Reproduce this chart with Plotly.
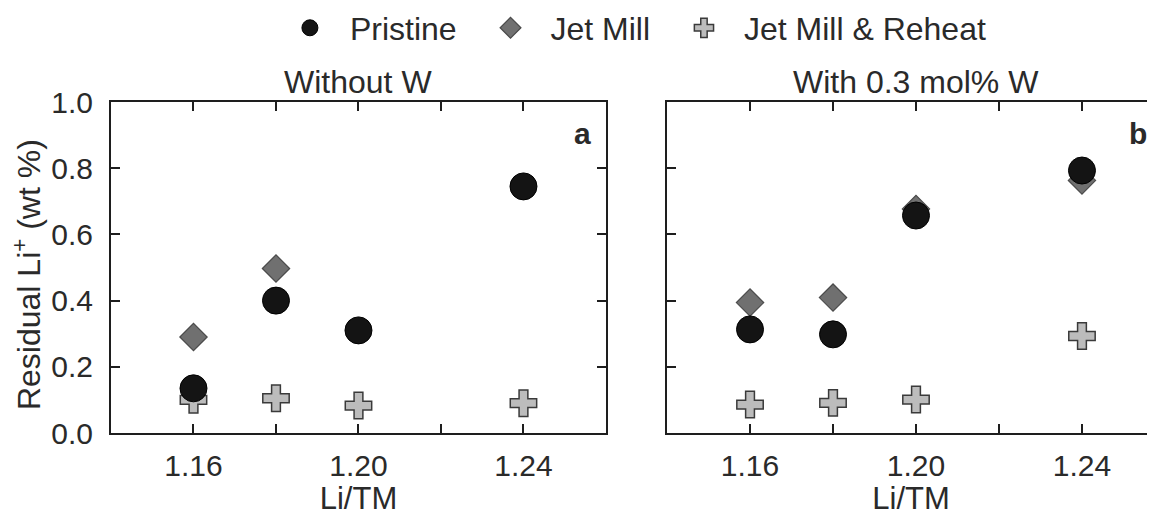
import plotly.graph_objects as go

li_tm = [1.16, 1.18, 1.20, 1.24]

# Panel a: without W
a_pristine = [0.135, 0.40, 0.31, 0.745]
a_jetmill_x = [1.16, 1.18]
a_jetmill = [0.29, 0.497]
a_reheat = [0.10, 0.105, 0.083, 0.09]

# Panel b: with 0.3 mol% W
b_pristine = [0.313, 0.298, 0.657, 0.793]
b_jetmill = [0.394, 0.409, 0.677, 0.763]
b_reheat = [0.086, 0.091, 0.101, 0.293]

x_tickvals = [1.16, 1.18, 1.20, 1.22, 1.24]
x_ticktext = ["1.16", "", "1.20", "", "1.24"]
y_tickvals = [0.0, 0.2, 0.4, 0.6, 0.8, 1.0]

FONT = "Liberation Sans, Arial, sans-serif"
TXT = "#2a2a2a"

pristine_m = dict(symbol="circle", size=27, color="#141414", line=dict(color="#000000", width=1))
jet_m = dict(symbol="diamond", size=21, color="#707070", line=dict(color="#4a4a4a", width=1.2))
reheat_m = dict(symbol="cross", size=22, color="#bcbcbc", line=dict(color="#3a3a3a", width=1.5))

fig = go.Figure()
# panel a
fig.add_trace(go.Scatter(x=li_tm, y=a_reheat, mode="markers", marker=reheat_m,
                         name="Jet Mill & Reheat", legendrank=3, xaxis="x", yaxis="y"))
fig.add_trace(go.Scatter(x=a_jetmill_x, y=a_jetmill, mode="markers", marker=jet_m,
                         name="Jet Mill\u00a0", legendrank=2, xaxis="x", yaxis="y"))
fig.add_trace(go.Scatter(x=li_tm, y=a_pristine, mode="markers", marker=pristine_m,
                         name="Pristine\u00a0", legendrank=1, xaxis="x", yaxis="y"))
# panel b
fig.add_trace(go.Scatter(x=li_tm, y=b_reheat, mode="markers", marker=reheat_m,
                         name="Jet Mill & Reheat", showlegend=False, xaxis="x2", yaxis="y2"))
fig.add_trace(go.Scatter(x=li_tm, y=b_jetmill, mode="markers", marker=jet_m,
                         name="Jet Mill", showlegend=False, xaxis="x2", yaxis="y2"))
fig.add_trace(go.Scatter(x=li_tm, y=b_pristine, mode="markers", marker=pristine_m,
                         name="Pristine", showlegend=False, xaxis="x2", yaxis="y2"))

axis_common = dict(showline=True, linecolor="#1e1e1e", linewidth=2,
                   ticks="inside", ticklen=9, tickwidth=2, tickcolor="#1e1e1e",
                   showgrid=False, zeroline=False,
                   tickfont=dict(size=30, color=TXT, family=FONT))

xa = dict(axis_common, mirror="ticks", tickvals=x_tickvals, ticktext=x_ticktext,
          ticklabelstandoff=5,
          title=dict(text="Li/TM", font=dict(size=31, color=TXT, family=FONT), standoff=7))
ya = dict(axis_common, range=[0, 1.0], tickvals=y_tickvals, tickformat=".1f", ticklabelstandoff=10)

# the page body adds an 8 px offset, so the figure is 8 px smaller than the window
fig.update_layout(
    width=1147, height=508,
    margin=dict(l=103, r=0, t=94, b=83, autoexpand=False),
    paper_bgcolor="white", plot_bgcolor="white",
    font=dict(family=FONT, color=TXT),
    xaxis=dict(xa, range=[1.14, 1.26], domain=[0, 0.4741], anchor="y"),
    yaxis=dict(ya, mirror="ticks", domain=[0, 1], anchor="x"),
    xaxis2=dict(xa, range=[1.14, 1.2576], domain=[0.5326, 1], anchor="y2"),
    yaxis2=dict(ya, mirror=False, domain=[0, 1], anchor="x2", showticklabels=False),
    showlegend=True,
    legend=dict(orientation="h", x=0.498, xanchor="center", y=1.2236, yanchor="middle",
                font=dict(size=32, color=TXT, family=FONT), itemsizing="trace",
                itemwidth=70, bgcolor="rgba(0,0,0,0)", borderwidth=0, tracegroupgap=0),
    annotations=[
        dict(text="Residual Li<sup>+</sup> (wt %)", x=-0.0805, y=0.48, xref="paper", yref="paper",
             xanchor="center", yanchor="middle", textangle=-90, showarrow=False, borderpad=0,
             font=dict(size=32, color=TXT, family=FONT)),
        dict(text="Without W", x=1.20, y=1, xref="x", yref="paper", xanchor="center",
             yanchor="bottom", yshift=0, showarrow=False,
             font=dict(size=32, color=TXT, family=FONT)),
        dict(text="With 0.3 mol% W", x=1.20, y=1, xref="x2", yref="paper", xanchor="center",
             yanchor="bottom", yshift=0, showarrow=False,
             font=dict(size=32, color=TXT, family=FONT)),
        dict(text="<b>a</b>", x=1.2544, y=0.906, xref="x", yref="paper", xanchor="center",
             yanchor="middle", showarrow=False, font=dict(size=30, color=TXT, family=FONT)),
        dict(text="<b>b</b>", x=1.2535, y=0.906, xref="x2", yref="paper", xanchor="center",
             yanchor="middle", showarrow=False, font=dict(size=30, color=TXT, family=FONT)),
    ],
)

fig.write_html("out.html")
